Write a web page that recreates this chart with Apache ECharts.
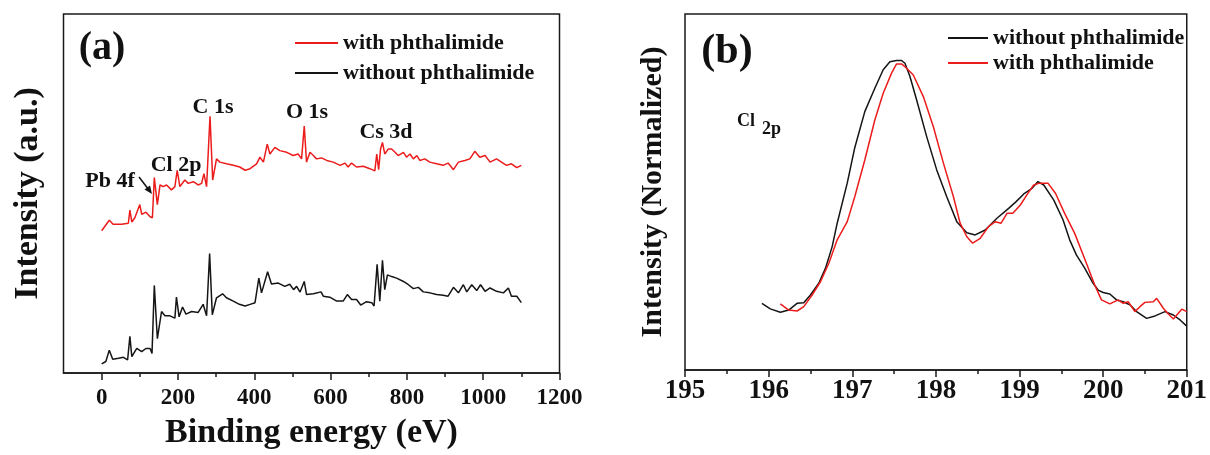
<!DOCTYPE html>
<html>
<head>
<meta charset="utf-8">
<script src="https://cdn.jsdelivr.net/npm/echarts@6/dist/echarts.min.js"></script>
<style>
html,body{margin:0;padding:0;background:#fff;}
#chart{width:1210px;height:455px;}
</style>
</head>
<body>
<div id="chart"></div>
<script>
// ---------- DATA ----------
// Panel (a): XPS survey, binding energy (eV) vs intensity (a.u.)
const surveyWith = [[0,144],[20,154.7],[30,150.7],[52,150.7],[70,151.7],[74,165],[79,153],[87,157.3],[100,170.7],[105,160.7],[116,163],[127,158.3],[133,157.3],[138,198.3],[146,170.7],[153,190.7],[161,189],[170,190.7],[183,185.7],[192,189],[198,205.7],[205,189],[218,195.7],[227,192.3],[240,194],[253,190.7],[262,192.3],[268,202.3],[275,189],[280,187.3],[284,260.7],[291,195.7],[301,217.3],[310,214],[327,212.3],[345,210.7],[362,209],[376,205.7],[389,207.3],[406,212.3],[415,219],[424,214],[434,232.3],[441,222.3],[454,229],[467,225.7],[485,224],[502,220.7],[515,222.3],[524,217.3],[531,250.7],[537,214],[546,224],[555,220.7],[563,217.3],[576,218.3],[590,215.7],[607,214],[625,210.7],[638,213],[646,209],[655,213],[668,209],[686,209.7],[703,207.3],[716,205],[721,222.3],[726,206.3],[731,227.3],[736,234],[742,222.3],[751,227.3],[760,227.3],[769,224],[777,220.7],[791,224],[799,219],[808,222.3],[817,217.3],[826,220.7],[834,215.7],[847,217.3],[860,214],[878,212.3],[895,210.7],[908,213],[922,206.3],[935,214],[952,215.7],[965,217.3],[978,225],[991,219],[1005,220.7],[1018,214],[1035,217.3],[1048,214],[1061,210.7],[1074,212.3],[1088,208.3],[1100,210.7]];
const surveyWithout = [[0,8.3],[11,10.7],[20,22.3],[29,13],[44,14],[57,15],[68,12.3],[74,36.3],[79,15.7],[92,24],[105,20.7],[116,24],[127,24],[132,19],[138,88.3],[146,34],[157,61.7],[166,57.3],[179,57.3],[192,55],[196,76.3],[203,56.3],[212,66.3],[221,59],[236,61.7],[253,60.7],[266,69],[275,57.3],[283,120.7],[290,58.3],[301,75.7],[317,79.7],[327,75.7],[345,72.3],[361,69],[376,67.3],[389,69],[402,70.7],[412,95.7],[419,80.7],[435,102.3],[445,89.7],[463,90.7],[480,87.3],[493,89.5],[503,84],[511,87.3],[520,81.5],[531,92.3],[537,79],[555,79.7],[575,81.7],[581,77.3],[598,76.3],[616,72.3],[633,72.3],[644,79],[655,74],[668,74],[679,68.3],[694,71.7],[708,70.7],[714,67.3],[722,109.7],[729,72.3],[736,114],[742,84],[749,99],[760,97.3],[773,95.7],[791,92.3],[804,89],[817,85],[830,86.3],[843,81.7],[860,80.7],[878,79],[895,78.3],[908,77.3],[922,86.3],[935,80.7],[948,89],[957,81.7],[970,89],[983,83],[993,89],[1005,82.3],[1018,85.7],[1035,82.3],[1053,80.7],[1066,85.7],[1074,77.3],[1088,77.3],[1100,70.7]];
const surveyTicks = [0,200,400,600,800,1000,1200];
const surveyMinorTicks = [100,300,500,700,900,1100];

// Panel (b): Cl 2p high-resolution, normalized intensity
const cl2pWithout = [[195.92,0.210],[196.02,0.192],[196.14,0.181],[196.24,0.188],[196.34,0.210],[196.42,0.212],[196.50,0.237],[196.60,0.275],[196.68,0.324],[196.76,0.394],[196.82,0.470],[196.94,0.600],[197.03,0.715],[197.15,0.832],[197.27,0.908],[197.37,0.968],[197.45,0.994],[197.53,0.998],[197.59,0.998],[197.63,0.989],[197.69,0.946],[197.77,0.870],[197.89,0.751],[198.01,0.643],[198.13,0.556],[198.25,0.475],[198.37,0.439],[198.47,0.432],[198.59,0.448],[198.73,0.486],[198.87,0.518],[198.96,0.540],[199.06,0.567],[199.15,0.583],[199.22,0.605],[199.29,0.594],[199.41,0.545],[199.52,0.481],[199.60,0.416],[199.68,0.367],[199.78,0.324],[199.88,0.275],[199.94,0.253],[200.00,0.245],[200.08,0.240],[200.16,0.221],[200.24,0.215],[200.32,0.205],[200.40,0.183],[200.52,0.161],[200.62,0.169],[200.74,0.183],[200.84,0.172],[200.92,0.156],[201.00,0.136]];
const cl2pWith = [[196.14,0.208],[196.24,0.188],[196.34,0.185],[196.42,0.199],[196.52,0.237],[196.62,0.280],[196.72,0.340],[196.82,0.416],[196.94,0.475],[197.03,0.556],[197.15,0.675],[197.27,0.805],[197.37,0.892],[197.47,0.957],[197.53,0.987],[197.59,0.987],[197.65,0.973],[197.73,0.951],[197.85,0.881],[197.97,0.783],[198.09,0.665],[198.21,0.556],[198.29,0.470],[198.37,0.426],[198.44,0.405],[198.53,0.421],[198.63,0.459],[198.71,0.475],[198.78,0.470],[198.85,0.502],[198.92,0.502],[199.01,0.529],[199.10,0.567],[199.17,0.594],[199.24,0.600],[199.34,0.600],[199.43,0.567],[199.54,0.502],[199.66,0.437],[199.80,0.340],[199.90,0.269],[199.98,0.221],[200.08,0.208],[200.18,0.221],[200.24,0.210],[200.30,0.215],[200.38,0.183],[200.44,0.199],[200.50,0.213],[200.60,0.215],[200.64,0.226],[200.72,0.194],[200.78,0.175],[200.84,0.159],[200.94,0.191],[201.00,0.183]];

const NAME_WITH = 'with phthalimide';
const NAME_WITHOUT = 'without phthalimide';
const peakLabels = ['Pb 4f', 'Cl 2p', 'C 1s', 'O 1s', 'Cs 3d'];

// ---------- STYLE ----------
const FONT = '"Liberation Serif","Times New Roman",serif';
const RED = '#ec1c1c';
const BLACK = '#151515';
const AX = '#1a1a1a';

const chart = echarts.init(document.getElementById('chart'), null, {renderer:'canvas'});

function txt(x, y, s, size, align) {
  return {type:'text', x:x, y:y, style:{text:s, font:'bold '+size+'px '+FONT, fill:'#111', align:align||'center', verticalAlign:'middle'}};
}
const plain = v => String(v);

const option = {
  backgroundColor:'#fff',
  animation:false,
  grid:[
    {left:63.5, top:14, width:496, height:366, show:true, borderColor:AX, borderWidth:1.5},
    {left:685, top:14, width:502, height:356, show:true, borderColor:AX, borderWidth:1.5}
  ],
  legend:[
    {data:[NAME_WITH, NAME_WITHOUT], orient:'vertical', left:290, top:27, icon:'rect', itemWidth:43, itemHeight:2, itemGap:8, selectedMode:false,
     textStyle:{fontFamily:FONT, fontWeight:'bold', fontSize:22, color:'#111'}},
    {data:[NAME_WITHOUT, NAME_WITH], orient:'vertical', left:943, top:22, icon:'rect', itemWidth:40, itemHeight:2, itemGap:3, selectedMode:false,
     textStyle:{fontFamily:FONT, fontWeight:'bold', fontSize:22, color:'#111'}}
  ],
  xAxis:[
    {gridIndex:0, type:'value', min:-100, max:1200, position:'bottom',
     axisLine:{show:true, onZero:false, lineStyle:{color:AX, width:1.5}},
     axisTick:{show:true, customValues:surveyTicks, length:7, lineStyle:{color:AX, width:1.5}},
     axisLabel:{customValues:surveyTicks, formatter:plain, fontFamily:FONT, fontWeight:'bold', fontSize:23, color:'#111', margin:14},
     splitLine:{show:false},
     name:'Binding energy (eV)', nameLocation:'middle', nameGap:43,
     nameTextStyle:{fontFamily:FONT, fontWeight:'bold', fontSize:34, color:'#111'}},
    {gridIndex:0, type:'value', min:-100, max:1200, position:'bottom',
     axisLine:{show:false, onZero:false},
     axisTick:{show:true, customValues:surveyMinorTicks, length:4, lineStyle:{color:AX, width:1.5}},
     axisLabel:{show:false}, splitLine:{show:false}},
    {gridIndex:1, type:'value', min:195, max:201, interval:1, position:'bottom',
     axisLine:{show:true, onZero:false, lineStyle:{color:AX, width:1.5}},
     axisTick:{show:true, length:7, lineStyle:{color:AX, width:1.5}},
     minorTick:{show:true, splitNumber:2, length:4, lineStyle:{color:AX, width:1.5}},
     axisLabel:{formatter:plain, fontFamily:FONT, fontWeight:'bold', fontSize:27, color:'#111', margin:8},
     splitLine:{show:false}}
  ],
  yAxis:[
    {gridIndex:0, type:'value', min:-1, max:365, axisLine:{show:false, onZero:false}, axisTick:{show:false}, axisLabel:{show:false}, splitLine:{show:false},
     name:'Intensity (a.u.)', nameLocation:'middle', nameGap:18,
     nameTextStyle:{fontFamily:FONT, fontWeight:'bold', fontSize:34, color:'#111'}},
    {gridIndex:1, type:'value', min:-0.0065, max:1.149, axisLine:{show:false, onZero:false}, axisTick:{show:false}, axisLabel:{show:false}, splitLine:{show:false},
     name:'Intensity (Normalized)', nameLocation:'middle', nameGap:17,
     nameTextStyle:{fontFamily:FONT, fontWeight:'bold', fontSize:30, color:'#111'}}
  ],
  series:[
    {name:NAME_WITH, type:'line', xAxisIndex:0, yAxisIndex:0, data:surveyWith, showSymbol:false, color:RED, lineStyle:{width:1.5, color:RED}},
    {name:NAME_WITHOUT, type:'line', xAxisIndex:0, yAxisIndex:0, data:surveyWithout, showSymbol:false, color:BLACK, lineStyle:{width:1.5, color:BLACK}},
    {name:NAME_WITHOUT, type:'line', xAxisIndex:2, yAxisIndex:1, data:cl2pWithout, showSymbol:false, color:BLACK, lineStyle:{width:1.5, color:BLACK}},
    {name:NAME_WITH, type:'line', xAxisIndex:2, yAxisIndex:1, data:cl2pWith, showSymbol:false, color:RED, lineStyle:{width:1.5, color:RED}}
  ],
  graphic:[
    txt(102, 49, '(a)', 40),
    txt(727, 52, '(b)', 42),
    txt(110, 181, peakLabels[0], 22),
    txt(176, 165, peakLabels[1], 22),
    txt(213, 107, peakLabels[2], 22),
    txt(307, 112, peakLabels[3], 22),
    txt(386, 132, peakLabels[4], 22),
    {type:'line', shape:{x1:139, y1:177, x2:149, y2:190}, style:{stroke:'#111', lineWidth:1.5}},
    {type:'polygon', shape:{points:[[152,194],[144.5,189.5],[150,185.5]]}, style:{fill:'#111'}},
    txt(737, 121, 'Cl', 18, 'left'),
    txt(762, 129, '2p', 18, 'left')
  ]
};
chart.setOption(option);
</script>
</body>
</html>
